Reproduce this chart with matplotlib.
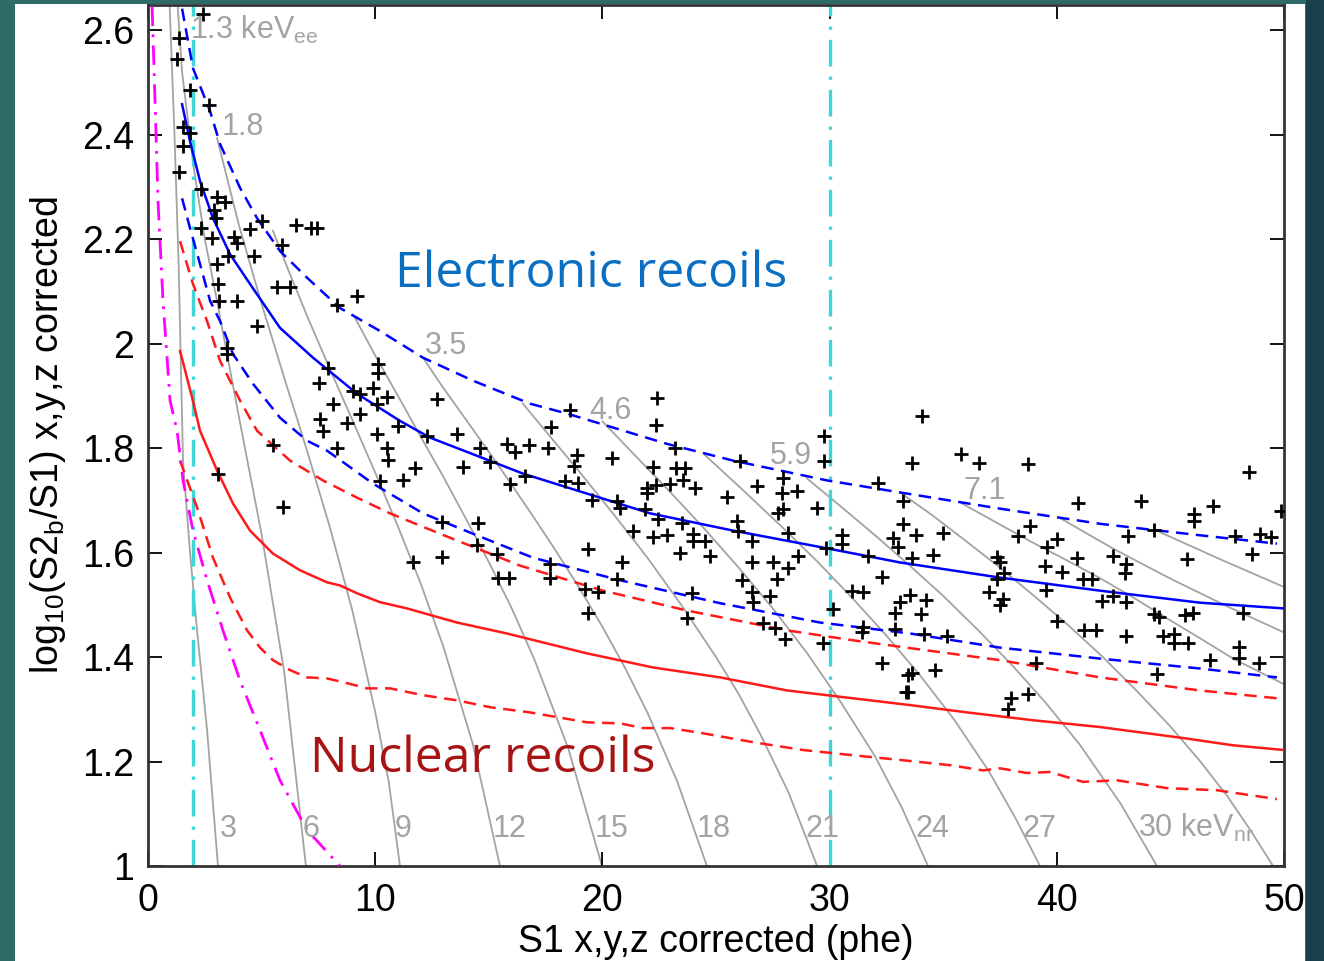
import matplotlib.pyplot as plt
from matplotlib.patches import Rectangle
from matplotlib.ticker import FormatStrFormatter

plt.rcParams['font.family'] = ['Liberation Sans', 'DejaVu Sans']
plt.rcParams['mathtext.fontset'] = 'custom'
plt.rcParams['mathtext.rm'] = 'Liberation Sans'
plt.rcParams['mathtext.it'] = 'Liberation Sans'

# ---- band curves (S1 [phe], log10(S2b/S1)) ----
er_mean_s1 = [1.50, 1.85, 2.29, 2.86, 3.61, 4.49, 5.81, 7.26, 9.20, 11.09, 12.41, 16.51, 22.10, 25.75, 29.89, 33.10, 37.50, 41.90, 46.30, 50.0]
er_mean_y = [2.458, 2.387, 2.311, 2.240, 2.171, 2.114, 2.030, 1.973, 1.904, 1.852, 1.820, 1.751, 1.675, 1.642, 1.608, 1.581, 1.552, 1.527, 1.504, 1.493]

er_hi_s1 = [1.50, 1.98, 2.73, 3.17, 4.05, 4.80, 5.81, 7.00, 8.45, 10.21, 12.10, 14.30, 16.81, 18.44, 22.84, 25.75, 29.89, 33.10, 37.50, 41.90, 46.30, 49.69]
er_hi_y = [2.641, 2.527, 2.445, 2.382, 2.298, 2.240, 2.177, 2.126, 2.068, 2.024, 1.973, 1.929, 1.885, 1.866, 1.808, 1.776, 1.738, 1.715, 1.684, 1.655, 1.633, 1.617]

er_lo_s1 = [1.50, 1.85, 2.29, 2.73, 3.17, 3.74, 4.62, 5.81, 7.00, 7.88, 9.90, 12.10, 14.30, 16.95, 20.77, 25.18, 29.58, 33.54, 37.50, 41.90, 46.30, 49.69]
er_lo_y = [2.278, 2.221, 2.152, 2.082, 2.043, 1.980, 1.923, 1.858, 1.814, 1.795, 1.732, 1.675, 1.636, 1.590, 1.547, 1.503, 1.466, 1.445, 1.418, 1.397, 1.378, 1.361]

nr_mean_s1 = [1.41, 1.98, 2.29, 3.04, 3.74, 4.49, 5.50, 6.69, 7.88, 8.45, 9.20, 10.21, 11.40, 13.60, 15.80, 19.32, 22.23, 25.18, 28.13, 31.03, 33.54, 36.05, 38.95, 41.90, 45.55, 47.76, 50.0]
nr_mean_y = [1.986, 1.890, 1.833, 1.757, 1.694, 1.642, 1.598, 1.566, 1.543, 1.537, 1.522, 1.505, 1.493, 1.466, 1.445, 1.407, 1.380, 1.361, 1.336, 1.321, 1.308, 1.294, 1.279, 1.266, 1.245, 1.231, 1.222]

nr_hi_s1 = [1.41, 1.98, 2.60, 3.17, 4.05, 4.80, 6.25, 7.70, 9.20, 10.65, 12.85, 15.05, 16.37, 20.03, 23.72, 28.13, 31.03, 33.54, 37.50, 41.90, 46.30, 49.69]
nr_hi_y = [2.196, 2.114, 2.043, 1.967, 1.891, 1.833, 1.776, 1.738, 1.705, 1.675, 1.636, 1.598, 1.575, 1.527, 1.489, 1.451, 1.432, 1.417, 1.394, 1.361, 1.336, 1.321]

nr_lo_s1 = [1.41, 2.16, 2.86, 3.61, 4.36, 4.93, 5.50, 6.25, 7.00, 7.88, 8.76, 9.64, 10.65, 12.10, 13.60, 15.05, 16.81, 19.32, 20.77, 21.79, 22.98, 24.43, 26.63, 28.83, 31.03, 33.10, 35.30, 36.75, 37.50, 38.69, 39.70, 41.15, 42.65, 44.85, 47.05, 49.69]
nr_lo_y = [1.776, 1.686, 1.590, 1.514, 1.451, 1.418, 1.394, 1.375, 1.361, 1.359, 1.350, 1.340, 1.340, 1.327, 1.317, 1.304, 1.294, 1.275, 1.273, 1.264, 1.264, 1.254, 1.237, 1.222, 1.212, 1.203, 1.193, 1.183, 1.187, 1.178, 1.180, 1.161, 1.164, 1.149, 1.145, 1.128]

thresh_s1 = [0.18, 0.31, 0.44, 0.66, 0.97, 1.28, 1.54, 1.98, 2.60, 3.30, 4.05, 4.93, 5.81, 7.00, 8.45]
thresh_y = [2.645, 2.464, 2.273, 2.082, 1.891, 1.833, 1.738, 1.642, 1.547, 1.451, 1.355, 1.260, 1.164, 1.069, 1.000]

fiducial_s1 = [2, 30]

# ---- constant-energy contours: keVnr at bottom ----
contour_kevnr = [3, 6, 9, 12, 15, 18, 21, 24, 27, 30, 33, 36, 39, 42]
contour_s1 = [
    [0.95, 1.15, 1.35, 1.54, 1.85, 2.16, 2.60, 3.08],
    [1.30, 1.50, 2.00, 2.50, 3.00, 4.00, 5.00, 6.00, 6.95],
    [3.04, 4.0, 5.0, 6.0, 7.0, 8.0, 9.0, 10.0, 10.6, 11.09],
    [5.5, 6.2, 7.0, 8.0, 9.0, 10.0, 11.0, 12.0, 13.0, 14.3, 15.49],
    [9.1, 10.0, 11.0, 12.0, 13.0, 14.0, 15.0, 16.0, 17.0, 18.5, 19.98],
    [12.1, 13.0, 14.0, 15.0, 16.0, 17.0, 18.0, 19.0, 20.0, 21.0, 22.0, 23.3, 24.6],
    [16.5, 17.7, 19.0, 20.5, 22.0, 23.5, 25.0, 26.0, 27.0, 28.2, 29.45],
    [20.0, 21.5, 23.0, 24.5, 26.0, 27.5, 29.0, 30.5, 32.0, 33.2, 34.33],
    [24.5, 26.2, 28.0, 29.5, 31.0, 32.5, 34.0, 35.5, 37.0, 38.2, 39.26],
    [29.0, 30.5, 32.0, 33.5, 35.0, 36.5, 38.0, 39.5, 41.0, 42.8, 44.41],
    [33.1, 34.5, 36.0, 37.5, 39.0, 40.5, 42.0, 43.5, 45.0, 46.3, 47.5, 48.5, 49.52],
    [35.82, 37.4, 38.9, 40.4, 41.9, 43.4, 44.85, 46.3, 47.76, 50.0],
    [40.14, 42.5, 45.0, 47.5, 50.0],
    [44.54, 47.3, 50.0],
]
contour_y = [
    [2.65, 2.42, 2.15, 1.776, 1.60, 1.451, 1.26, 1.0],
    [2.65, 2.52, 2.34, 2.20, 2.09, 1.86, 1.635, 1.37, 1.0],
    [2.393, 2.227, 2.076, 1.934, 1.795, 1.649, 1.488, 1.295, 1.16, 1.0],
    [2.216, 2.138, 2.053, 1.952, 1.853, 1.753, 1.650, 1.541, 1.420, 1.233, 1.0],
    [2.05, 1.977, 1.90, 1.822, 1.745, 1.664, 1.582, 1.494, 1.396, 1.225, 1.0],
    [1.973, 1.915, 1.854, 1.793, 1.730, 1.666, 1.600, 1.531, 1.458, 1.379, 1.292, 1.161, 1.0],
    [1.885, 1.822, 1.754, 1.673, 1.589, 1.498, 1.40, 1.329, 1.248, 1.14, 1.0],
    [1.851, 1.783, 1.715, 1.645, 1.571, 1.493, 1.408, 1.313, 1.21, 1.11, 1.0],
    [1.787, 1.719, 1.645, 1.581, 1.513, 1.441, 1.364, 1.279, 1.182, 1.09, 1.0],
    [1.742, 1.688, 1.633, 1.576, 1.517, 1.453, 1.386, 1.313, 1.233, 1.12, 1.0],
    [1.715, 1.672, 1.622, 1.571, 1.517, 1.461, 1.401, 1.336, 1.267, 1.201, 1.134, 1.07, 1.0],
    [1.694, 1.656, 1.62, 1.586, 1.551, 1.513, 1.474, 1.436, 1.397, 1.348],
    [1.666, 1.607, 1.55, 1.497, 1.447],
    [1.639, 1.585, 1.534],
]

nr_labels = ['3', '6', '9', '12', '15', '18', '21', '24', '27', r'30 keV$_{\rm nr}$']
nr_label_s1 = [3.17, 6.82, 10.87, 15.18, 19.67, 24.16, 28.96, 33.76, 38.51, 43.57]
ee_labels = [r'1.3 keV$_{\rm ee}$', '1.8', '3.5', '4.6', '5.9', '7.1']
ee_label_s1 = [1.85, 3.26, 12.19, 19.41, 27.38, 35.87]
ee_label_y = [2.584, 2.40, 1.98, 1.856, 1.77, 1.703]

# ---- WIMP-search events ----
events = [
    (2.42, 2.630), (1.36, 2.584), (1.28, 2.544), (1.85, 2.485), (2.68, 2.456), (1.54, 2.414), (1.85, 2.403),
    (1.54, 2.378), (1.36, 2.328), (2.33, 2.296), (3.04, 2.280), (3.39, 2.271), (2.90, 2.256), (2.99, 2.240),
    (2.33, 2.221), (2.82, 2.202), (3.78, 2.204), (3.92, 2.192), (4.49, 2.219), (5.02, 2.235), (6.51, 2.227),
    (7.17, 2.221), (7.44, 2.221), (3.52, 2.168), (3.04, 2.152), (4.67, 2.168), (5.90, 2.189), (3.08, 2.114),
    (5.68, 2.108), (6.25, 2.108), (3.12, 2.082), (3.92, 2.082), (8.32, 2.074), (9.20, 2.091), (4.80, 2.034),
    (3.48, 1.992), (3.48, 1.980), (7.92, 1.954), (10.12, 1.961), (10.12, 1.944), (7.53, 1.925), (9.90, 1.915),
    (9.02, 1.910), (9.33, 1.904), (10.52, 1.898), (10.08, 1.885), (12.72, 1.894), (8.14, 1.885), (7.57, 1.856),
    (9.33, 1.866), (8.76, 1.848), (7.70, 1.833), (11.00, 1.843), (10.08, 1.827), (12.28, 1.824), (13.60, 1.827),
    (5.50, 1.805), (8.32, 1.801), (10.52, 1.801), (10.56, 1.778), (14.61, 1.801), (15.80, 1.808), (16.15, 1.793),
    (15.05, 1.774), (13.86, 1.764), (11.75, 1.762), (16.59, 1.747), (15.93, 1.732), (10.21, 1.736), (11.22, 1.738),
    (3.08, 1.751), (5.94, 1.688), (12.94, 1.659), (14.52, 1.657), (14.48, 1.615), (15.36, 1.598), (12.94, 1.592),
    (11.66, 1.581), (15.40, 1.552), (15.89, 1.552),
    (16.77, 1.806), (17.60, 1.801), (17.74, 1.841), (18.57, 1.873), (18.88, 1.787), (18.75, 1.766), (18.35, 1.736),
    (18.92, 1.734), (19.54, 1.701), (20.42, 1.780), (22.40, 1.896), (22.36, 1.845), (20.64, 1.699), (20.77, 1.686),
    (21.96, 1.724), (21.96, 1.713), (21.87, 1.684), (22.23, 1.764), (22.36, 1.730), (22.97, 1.732), (23.24, 1.761),
    (23.63, 1.761), (23.55, 1.738), (24.07, 1.724), (23.19, 1.801), (22.45, 1.665), (23.50, 1.657), (21.35, 1.642),
    (22.23, 1.629), (22.84, 1.633), (23.41, 1.600), (23.99, 1.636), (23.99, 1.623), (24.51, 1.623), (24.73, 1.594),
    (25.48, 1.707), (26.05, 1.776), (26.80, 1.728), (25.92, 1.661), (25.97, 1.642), (26.58, 1.623), (26.58, 1.581),
    (27.51, 1.581), (28.17, 1.571), (27.68, 1.550), (27.95, 1.743), (27.90, 1.713), (27.95, 1.684), (27.73, 1.675),
    (28.56, 1.717), (28.17, 1.638), (28.61, 1.594), (29.44, 1.686), (29.75, 1.824), (29.75, 1.776), (29.84, 1.608),
    (30.54, 1.633), (30.54, 1.617), (31.69, 1.594), (32.13, 1.734), (32.30, 1.554), (30.98, 1.527), (31.47, 1.524),
    (32.79, 1.627), (33.01, 1.610), (33.23, 1.655), (33.23, 1.699), (17.69, 1.579), (17.69, 1.552), (19.23, 1.531),
    (19.80, 1.524), (19.36, 1.606), (19.36, 1.485), (20.64, 1.550), (20.86, 1.581), (23.94, 1.522), (23.72, 1.474),
    (26.14, 1.547), (26.58, 1.524), (26.63, 1.505), (27.37, 1.516), (27.07, 1.466), (27.59, 1.455), (28.03, 1.434),
    (29.71, 1.426), (30.15, 1.491), (31.47, 1.457), (31.42, 1.447), (32.30, 1.388), (32.88, 1.453), (32.88, 1.485),
    (33.10, 1.505), (33.45, 1.365), (33.45, 1.333),
    (34.06, 1.862), (33.62, 1.772), (35.78, 1.789), (36.57, 1.772), (38.73, 1.770), (48.46, 1.755), (40.93, 1.694),
    (43.70, 1.698), (46.87, 1.690), (46.03, 1.673), (46.03, 1.661), (49.86, 1.680), (38.82, 1.650), (38.29, 1.631),
    (44.27, 1.644), (47.84, 1.631), (48.94, 1.636), (49.42, 1.629), (43.13, 1.631), (33.80, 1.633), (34.99, 1.638),
    (37.36, 1.592), (37.50, 1.581), (40.01, 1.625), (39.57, 1.610), (45.73, 1.587), (48.59, 1.598), (42.47, 1.594),
    (43.04, 1.579), (43.00, 1.560), (40.89, 1.589), (33.62, 1.590), (34.55, 1.596), (37.67, 1.560), (37.36, 1.550),
    (39.48, 1.575), (40.23, 1.562), (41.15, 1.550), (41.55, 1.550), (39.52, 1.529), (37.01, 1.524), (37.63, 1.512),
    (37.50, 1.499), (41.99, 1.508), (42.47, 1.516), (43.04, 1.506), (48.19, 1.485), (44.27, 1.483), (44.49, 1.476),
    (45.64, 1.480), (45.99, 1.485), (33.54, 1.518), (34.24, 1.510), (34.02, 1.483), (34.15, 1.445), (35.16, 1.441),
    (40.01, 1.468), (41.19, 1.451), (41.72, 1.451), (43.04, 1.440), (44.67, 1.441), (45.15, 1.445), (45.15, 1.426),
    (45.77, 1.426), (46.74, 1.394), (48.01, 1.419), (48.01, 1.399), (48.90, 1.388), (44.41, 1.367), (39.08, 1.388),
    (33.62, 1.369), (34.64, 1.375), (33.36, 1.333), (37.98, 1.321), (37.85, 1.300), (38.73, 1.329),
]

W, H = 1324, 961
fig = plt.figure(figsize=(W / 100, H / 100), dpi=100)
fig.patch.set_facecolor('#2e6a66')
fig.patches.append(Rectangle((15 / W, 0), 1290 / W, 1 - 4 / H, transform=fig.transFigure,
                             facecolor='white', edgecolor='none', zorder=-2))
fig.patches.append(Rectangle((1306 / W, 0), 18 / W, 1, transform=fig.transFigure,
                             facecolor='#1b3f4d', edgecolor='none', zorder=-2))

ax = fig.add_axes([148 / W, 1 - 866 / H, 1136 / W, 861 / H])

gray = '#a3a3a3'
for xs, ys in zip(contour_s1, contour_y):
    ax.plot(xs, ys, color=gray, lw=1.3, zorder=1)

dash = (0, (5, 3))
ax.plot(er_hi_s1, er_hi_y, color='blue', lw=1.8, ls=dash, zorder=3)
ax.plot(er_lo_s1, er_lo_y, color='blue', lw=1.8, ls=dash, zorder=3)
ax.plot(er_mean_s1, er_mean_y, color='blue', lw=1.8, zorder=3)
ax.plot(nr_hi_s1, nr_hi_y, color='#ff1a1a', lw=1.8, ls=dash, zorder=3)
ax.plot(nr_lo_s1, nr_lo_y, color='#ff1a1a', lw=1.8, ls=dash, zorder=3)
ax.plot(nr_mean_s1, nr_mean_y, color='#ff1a1a', lw=1.8, zorder=3)

ax.plot(thresh_s1, thresh_y, color='#ff00ff', lw=2.0, ls=(0, (7, 3, 1, 3)), zorder=3)
for s in fiducial_s1:
    ax.axvline(s, color='#3ed6d6', lw=2.4, ls=(0, (8, 3, 1, 3)), zorder=2)

ex, ey = zip(*events)
ax.plot(ex, ey, ls='none', marker='+', ms=9.5, mew=2.0, color='black', zorder=5)

for lab, xs in zip(nr_labels, nr_label_s1):
    ax.text(xs, 1.055, lab, color=gray, fontsize=22, ha='left', va='baseline', zorder=4)
for lab, xs, ys in zip(ee_labels, ee_label_s1, ee_label_y):
    ax.text(xs, ys, lab, color=gray, fontsize=22, ha='left', va='baseline', zorder=4)

ax.text(10.87, 2.108, 'Electronic recoils', color='#0a6fc2', fontsize=36,
        family=['Open Sans', 'DejaVu Sans'], ha='left', va='baseline', zorder=6)
ax.text(7.13, 1.18, 'Nuclear recoils', color='#a81414', fontsize=36,
        family=['Open Sans', 'DejaVu Sans'], ha='left', va='baseline', zorder=6)

ax.set_xlim(0, 50)
ax.set_ylim(1, 2.648)
ax.set_xticks([0, 10, 20, 30, 40, 50])
ax.set_yticks([1, 1.2, 1.4, 1.6, 1.8, 2, 2.2, 2.4, 2.6])
ax.yaxis.set_major_formatter(FormatStrFormatter('%g'))
ax.tick_params(direction='in', length=10, width=1.3, top=True, right=True,
               labelsize=27, colors='black')
ax.tick_params(axis='x', pad=12)
ax.tick_params(axis='y', pad=10)
for sp in ax.spines.values():
    sp.set_linewidth(2)
    sp.set_color('#333333')

ax.set_xlabel('S1 x,y,z corrected (phe)', fontsize=27, labelpad=4)
ax.set_ylabel(r'log$_{10}$(S2$_{\rm b}$/S1) x,y,z corrected', fontsize=27, labelpad=10)

fig.savefig('out.png', dpi=100, facecolor=fig.get_facecolor())
